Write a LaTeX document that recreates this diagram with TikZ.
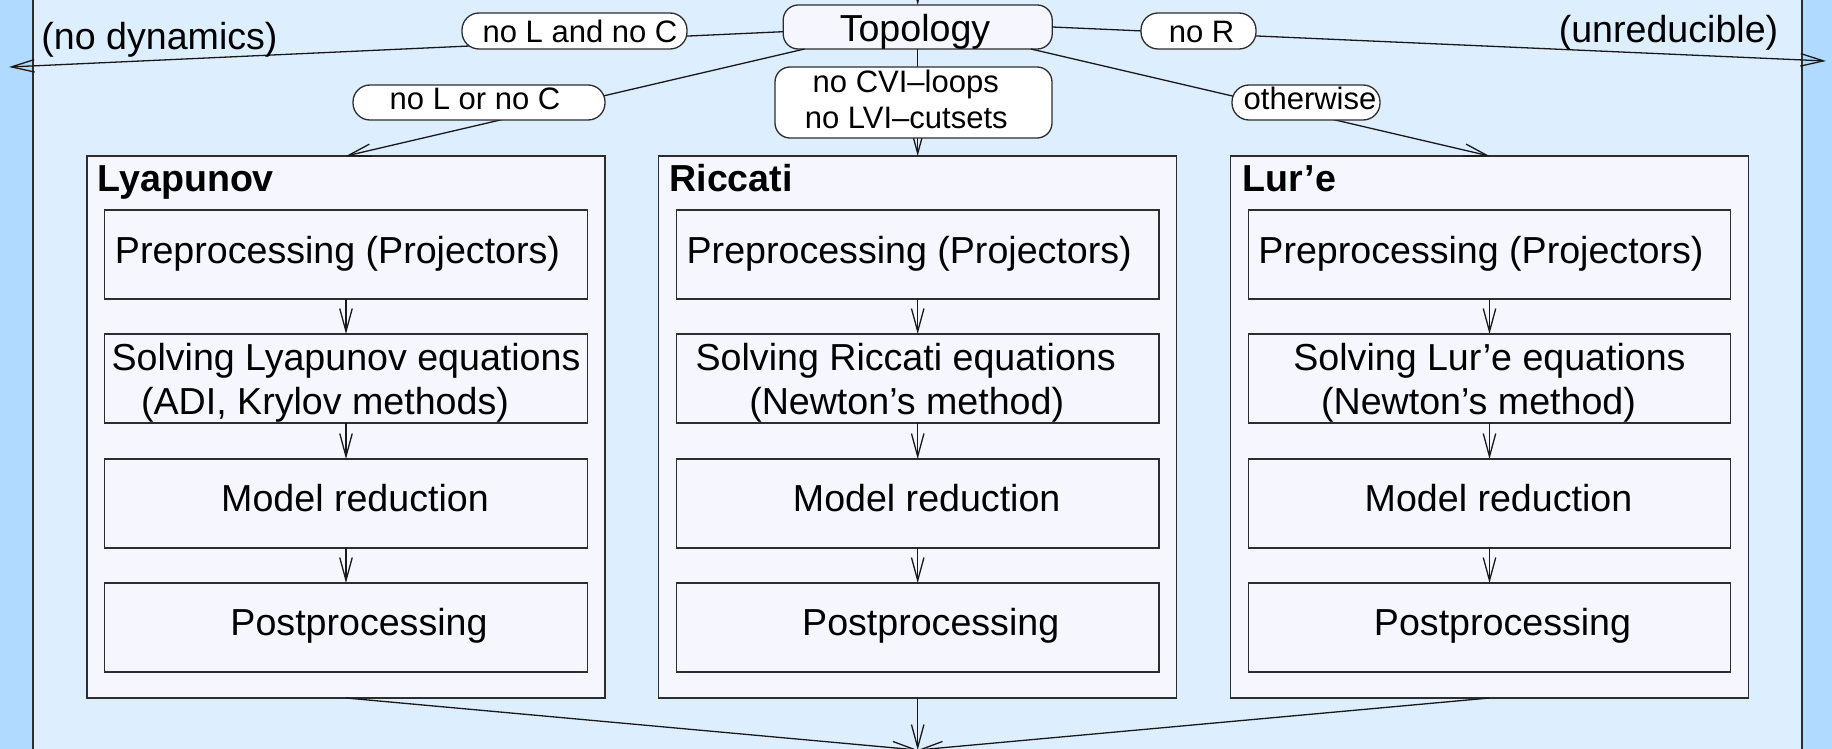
\documentclass[tikz,border=0pt]{standalone}
\usepackage{fontspec}
\setmainfont{Liberation Sans}
\usetikzlibrary{arrows.meta,calc}
\definecolor{stripblue}{RGB}{176,218,255}
\definecolor{mainblue}{RGB}{221,238,255}
\definecolor{boxfill}{RGB}{245,246,255}
\definecolor{edge}{RGB}{45,45,45}
\begin{document}
\begin{tikzpicture}[x=1pt,y=-1pt,
  outerbox/.style={draw=edge, line width=1.4pt, fill=boxfill, minimum width=518pt, minimum height=542pt, inner sep=0pt, outer sep=0pt},
  innerbox/.style={draw=edge, line width=1.4pt, fill=boxfill, minimum width=482.5pt, minimum height=89pt, inner sep=0pt, outer sep=0pt},
  pill/.style={draw=edge, line width=1.3pt, fill=white, rounded corners=17pt, inner sep=0pt, outer sep=0pt},
  txt/.style={anchor=base, inner sep=0pt, font=\fontsize{37.6}{45}\selectfont},
  ltxt/.style={anchor=base, inner sep=0pt, font=\fontsize{31}{36}\selectfont},
  ttl/.style={anchor=base west, inner sep=0pt, font=\fontsize{37.6}{45}\selectfont\bfseries},
  conn/.style={draw=black!90, line width=1.3pt},
  arr/.style={conn, -{Straight Barb[length=23pt,width=12.5pt]}},
]
\useasboundingbox (0,0) rectangle (1832,749);
% background
\fill[stripblue] (0,0) rectangle (1832,749);
\fill[mainblue] (33,0) rectangle (1802,749);
\draw[edge, line width=1.3pt] (33,0) -- (33,749) (1802,0) -- (1802,749);

% column 1: Lyapunov
\node[outerbox] (lyap) at (346,427) {};
\node[innerbox] (lyap1) at (346,254.5) {};
\node[innerbox] (lyap2) at (346,378.5) {};
\node[innerbox] (lyap3) at (346,503.5) {};
\node[innerbox] (lyap4) at (346,627.5) {};
\node[ttl] (lyapt) at (97.5,192) {Lyapunov};
\node[txt] (lyap1t) at (337.5,263.3) {Preprocessing (Projectors)};
\node[txt] (lyap2a) at (346,370) {Solving Lyapunov equations};
\node[txt] (lyap2b) at (325,414) {(ADI, Krylov methods)};
\node[txt] (lyap3t) at (355,511) {Model reduction};
\node[txt] (lyap4t) at (359,635) {Postprocessing};

% column 2: Riccati
\node[outerbox] (ricc) at (917.7,427) {};
\node[innerbox] (ricc1) at (917.7,254.5) {};
\node[innerbox] (ricc2) at (917.7,378.5) {};
\node[innerbox] (ricc3) at (917.7,503.5) {};
\node[innerbox] (ricc4) at (917.7,627.5) {};
\node[ttl] (ricct) at (669.2,192) {Riccati};
\node[txt] (ricc1t) at (909.2,263.3) {Preprocessing (Projectors)};
\node[txt] (ricc2a) at (905.7,370) {Solving Riccati equations};
\node[txt] (ricc2b) at (906.7,414) {(Newton’s method)};
\node[txt] (ricc3t) at (926.7,511) {Model reduction};
\node[txt] (ricc4t) at (930.7,635) {Postprocessing};

% column 3: Lur'e
\node[outerbox] (lure) at (1489.5,427) {};
\node[innerbox] (lure1) at (1489.5,254.5) {};
\node[innerbox] (lure2) at (1489.5,378.5) {};
\node[innerbox] (lure3) at (1489.5,503.5) {};
\node[innerbox] (lure4) at (1489.5,627.5) {};
\node[ttl] (luret) at (1242.5,192) {Lur’e};
\node[txt] (lure1t) at (1481,263.3) {Preprocessing (Projectors)};
\node[txt] (lure2a) at (1489.5,370) {Solving Lur’e equations};
\node[txt] (lure2b) at (1478.5,414) {(Newton’s method)};
\node[txt] (lure3t) at (1498.5,511) {Model reduction};
\node[txt] (lure4t) at (1502.5,635) {Postprocessing};

% inner arrows
\foreach \c in {lyap,ricc,lure}{
  \draw[arr] (\c1) -- (\c2);
  \draw[arr] (\c2) -- (\c3);
  \draw[arr] (\c3) -- (\c4);
}

% topology
\node[draw=edge, line width=1.3pt, fill=boxfill, rounded corners=15pt, minimum width=269pt, minimum height=44pt, inner sep=0pt, outer sep=0pt] (topo) at (917.7,27) {};
\node[txt] (topot) at (915,41.7) {Topology};

\coordinate (top) at (917.7,-40);
\coordinate (nodyn) at (9,67);
\coordinate (unred) at (1826,61);
\coordinate (out) at (917.7,750);

% connectors
\draw[arr] (top) -- (topo);
\draw[arr] (topo.182) -- (nodyn);
\draw[arr] (topo.east) -- (unred);
\draw[arr] (topo.191) -- (lyap.north);
\draw[arr] (topo.south) -- (ricc.north);
\draw[arr] (topo.349) -- (lure.north);
\draw[arr] (lyap.south) -- (out);
\draw[arr] (ricc.south) -- (out);
\draw[arr] (lure.south) -- (out);

% labels on connectors
\node[pill, minimum width=225pt, minimum height=36pt] (p1) at (574.5,31) {};
\node[ltxt] (p1t) at (580,42.7) {no L and no C};
\node[pill, minimum width=115pt, minimum height=36pt] (p2) at (1198.5,31) {};
\node[ltxt] (p2t) at (1201.5,42.7) {no R};
\node[pill, minimum width=252pt, minimum height=35pt] (p3) at (479,102.5) {};
\node[ltxt] (p3t) at (475,110) {no L or no C};
\node[pill, minimum width=148pt, minimum height=35pt] (p4) at (1306,102.5) {};
\node[ltxt] (p4t) at (1310,110) {otherwise};
\node[pill, rounded corners=15pt, minimum width=277pt, minimum height=71pt] (p5) at (913.5,102.5) {};
\node[ltxt] (p5a) at (905.8,92.7) {no CVI–loops};
\node[ltxt] (p5b) at (906.3,128.3) {no LVI–cutsets};

% end texts
\node[txt] (nodynt) at (159.5,50) {(no dynamics)};
\node[txt] (unredt) at (1668.5,43) {(unreducible)};
\end{tikzpicture}
\end{document}
